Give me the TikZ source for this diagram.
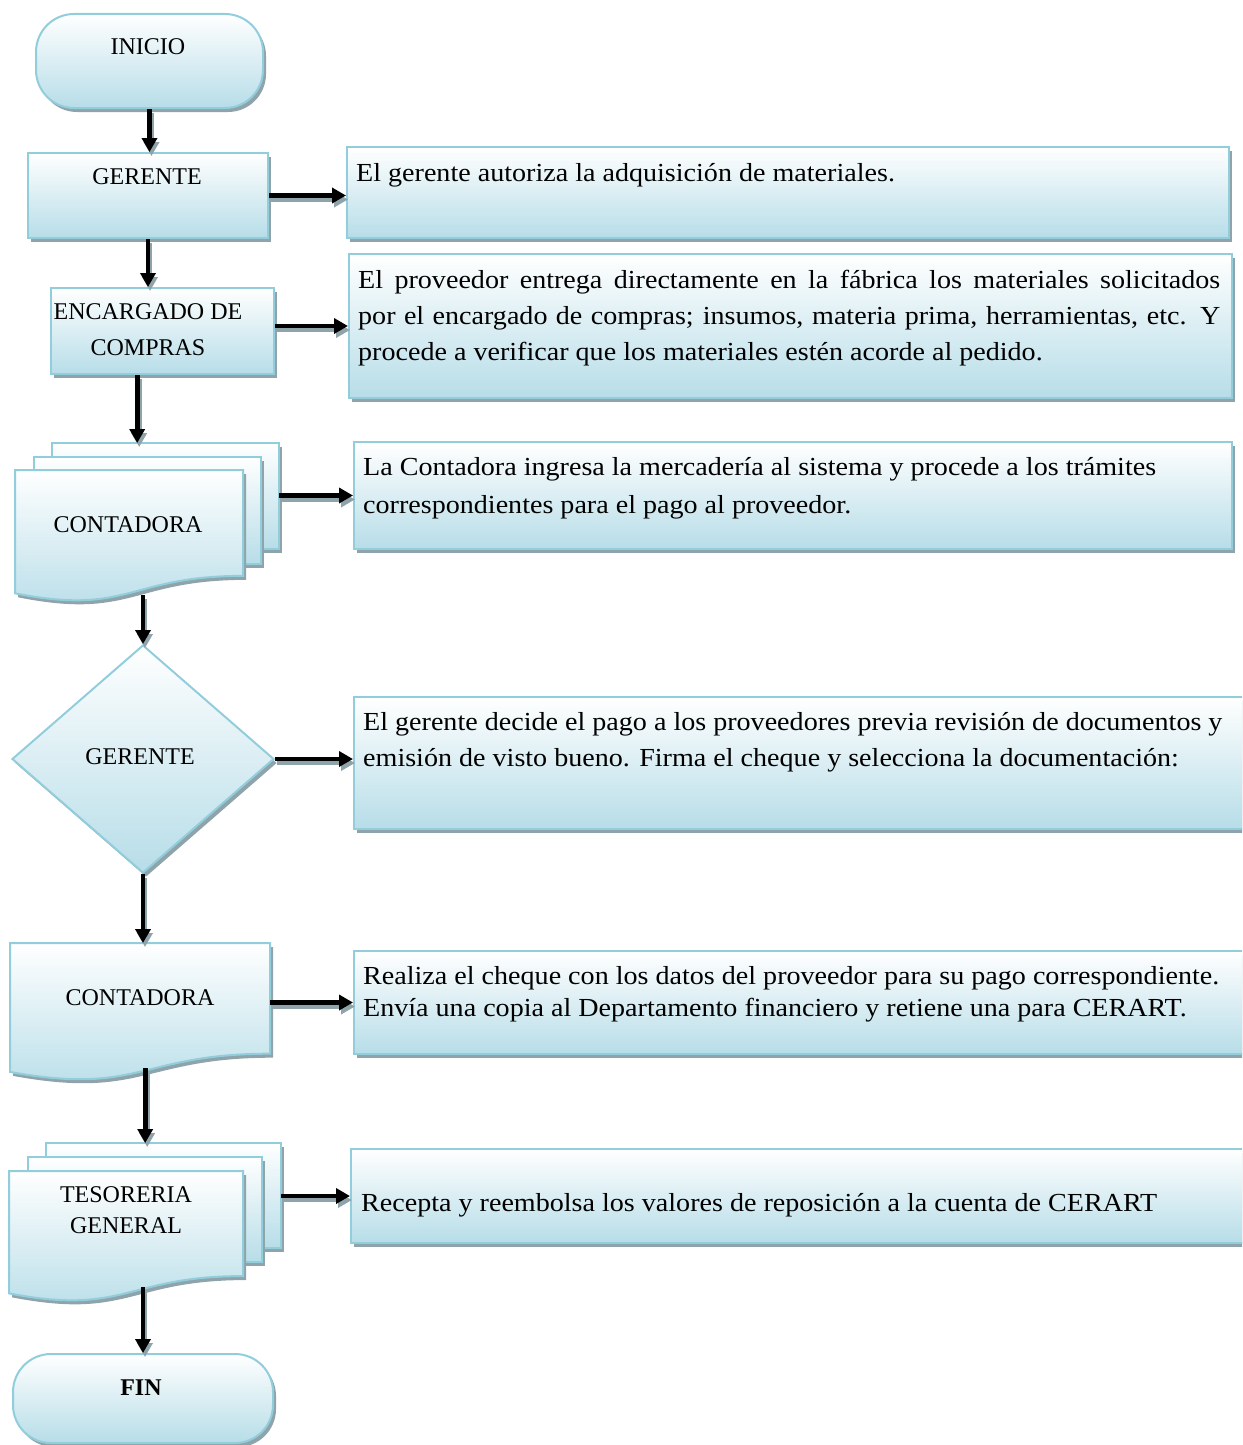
\documentclass[tikz,border=0pt]{standalone}
\usepackage{fontspec}
\setmainfont{Liberation Serif}[FakeStretch=1.08]
\newfontfamily\capsfont{Liberation Serif}
\usetikzlibrary{shapes.geometric,shadows,arrows.meta}
\definecolor{rim}{RGB}{146,205,220}
\definecolor{paleblue}{RGB}{183,221,232}
\definecolor{shadowgray}{RGB}{143,163,170}
\tikzset{
  softfill/.style={draw=rim, line width=2pt, top color=white, bottom color=paleblue, middle color=white!50!paleblue},
  dropsh/.style={drop shadow={shadow xshift=3pt, shadow yshift=-4pt, fill=shadowgray, opacity=1}},
  stepbox/.style={softfill, dropsh, rectangle, inner sep=0pt, anchor=north west},
  endbox/.style={softfill, dropsh, rectangle, rounded corners=38pt, inner sep=0pt, anchor=north west},
  decision/.style={softfill, dropsh, diamond, inner sep=0pt},
  hitbox/.style={rectangle, inner sep=0pt, anchor=north west},
  lbl/.style={font=\capsfont\fontsize{24}{31}\selectfont, align=center, inner sep=0pt},
  note/.style={font=\fontsize{26}{36}\selectfont, align=left, inner sep=0pt, anchor=north west},
  conn/.style={line width=4.8pt, -{Triangle[length=14pt,width=15pt]}},
  connsh/.style={conn, draw=shadowgray, transform canvas={xshift=2pt,yshift=-4pt}},
}
% connector with its grey shadow
\newcommand\link[2]{\draw[connsh] #1 -- #2; \draw[conn] #1 -- #2;}
% back sheet of a multi-document symbol: left, top, right, bottom
\newcommand\sheetrect[4]{%
  \begin{scope}[xshift=3pt,yshift=-4pt]
    \fill[shadowgray] (#1,#2) rectangle (#3,#4);
  \end{scope}
  \path[softfill] (#1,#2) rectangle (#3,#4);
}
% document symbol with wavy bottom: left, top, right, height
\newcommand\wavepage[4]{%
  \begin{scope}[xshift=3pt,yshift=-4pt]
    \fill[shadowgray] (#1,#2) -- (#3,#2) -- (#3,{#2+0.802*#4})
      .. controls ({(#1+#3)/2},{#2+0.802*#4}) and ({(#1+#3)/2},{#2+1.107*#4}) .. (#1,{#2+0.934*#4}) -- cycle;
  \end{scope}
  \path[softfill] (#1,#2) -- (#3,#2) -- (#3,{#2+0.802*#4})
      .. controls ({(#1+#3)/2},{#2+0.802*#4}) and ({(#1+#3)/2},{#2+1.107*#4}) .. (#1,{#2+0.934*#4}) -- cycle;
}
\begin{document}
\begin{tikzpicture}[x=1pt,y=-1pt]
\useasboundingbox (0,0) rectangle (1242,1445);
\clip (0,0) rectangle (1242,1445);

% start
\node[endbox, minimum width=227pt, minimum height=94pt] (ini) at (35,13) {};
\node[lbl] (iniT) at (148,47) {INICIO};

% manager
\node[stepbox, minimum width=240pt, minimum height=85pt] (ger) at (27,152) {};
\node[lbl] (gerT) at (147,177) {GERENTE};

% purchasing
\node[stepbox, minimum width=223pt, minimum height=86pt] (enc) at (50,287) {};
\node[lbl, font=\capsfont\fontsize{24}{36}\selectfont] (encT) at (148,330) {ENCARGADO DE\\COMPRAS};

% accountant (multi-document)
\sheetrect{52}{443}{279}{549}
\sheetrect{34}{457}{261}{564}
\wavepage{15}{470}{243}{132}
\node[hitbox, minimum width=264pt, minimum height=152pt] (c1) at (15,443) {};
\node[lbl] (c1T) at (128,525) {CONTADORA};

% decision
\node[decision, minimum width=262pt, minimum height=228pt] (dia) at (143,759) {};
\node[lbl] (diaT) at (140,757) {GERENTE};

% accountant (document)
\wavepage{10}{943}{270}{138}
\node[hitbox, minimum width=260pt, minimum height=125pt] (c2) at (10,943) {};
\node[lbl] (c2T) at (140,998) {CONTADORA};

% treasury (multi-document)
\sheetrect{46}{1143}{281}{1248}
\sheetrect{28}{1157}{262}{1262}
\wavepage{9}{1171}{243}{131}
\node[hitbox, minimum width=272pt, minimum height=144pt] (tes) at (9,1143) {};
\node[lbl] (tesT) at (126,1210.5) {TESORERIA\\GENERAL};

% end
\node[endbox, minimum width=260pt, minimum height=89pt] (fin) at (12,1353) {};
\node[lbl, font=\capsfont\bfseries\fontsize{24}{26}\selectfont] (finT) at (141,1388) {FIN};

% descriptions
\node[stepbox, minimum width=882pt, minimum height=91pt] (d1) at (346,146) {};
\node[note] (d1T) at (356,163) {El gerente autoriza la adquisición de materiales.};

\node[stepbox, minimum width=883pt, minimum height=144pt] (d2) at (348,253) {};
\node[note] (d2T) at (358,270) {\makebox[862pt][s]{El proveedor entrega directamente en la fábrica los materiales solicitados}\\
\makebox[862pt][s]{por el encargado de compras; insumos, materia prima, herramientas, etc. Y}\\
procede a verificar que los materiales estén acorde al pedido.};

\node[stepbox, minimum width=878pt, minimum height=107pt] (d3) at (353,441) {};
\node[note, font=\fontsize{26}{38}\selectfont] (d3T) at (363,457) {La Contadora ingresa la mercadería al sistema y procede a los trámites\\
correspondientes para el pago al proveedor.};

\node[stepbox, minimum width=900pt, minimum height=132pt] (d4) at (353,696) {};
\node[note] (d4T) at (363,712) {El gerente decide el pago a los proveedores previa revisión de documentos y\\
emisión de visto bueno. Firma el cheque y selecciona la documentación:};

\node[stepbox, minimum width=900pt, minimum height=103pt] (d5) at (353,950) {};
\node[note, font=\fontsize{26}{32}\selectfont] (d5T) at (363,966) {Realiza el cheque con los datos del proveedor para su pago correspondiente.\\
Envía una copia al Departamento financiero y retiene una para CERART.};

\node[stepbox, minimum width=900pt, minimum height=94pt] (d6) at (350,1148) {};
\node[note] (d6T) at (361,1193) {Recepta y reembolsa los valores de reposición a la cuenta de CERART};

% connectors
\link{(ini.south)}{(ini.south |- ger.north)}
\link{(ger.south)}{(ger.south |- enc.north)}
\link{([xshift=-10pt]c1.north |- enc.south)}{([xshift=-10pt]c1.north)}
\link{(dia.north |- c1.south)}{(dia.north)}
\link{(dia.south)}{(dia.south |- c2.north)}
\link{(tes.north |- c2.south)}{(tes.north)}
\link{(fin.north |- tes.south)}{(fin.north)}
\link{(ger.east)}{(ger.east -| d1.west)}
\link{(enc.east |- d2.west)}{(d2.west)}
\link{(c1.east |- d3.west)}{(d3.west)}
\link{(dia.east)}{(dia.east -| d4.west)}
\link{(c2.east |- d5.west)}{(d5.west)}
\link{(tes.east |- d6.west)}{(d6.west)}
\end{tikzpicture}
\end{document}
